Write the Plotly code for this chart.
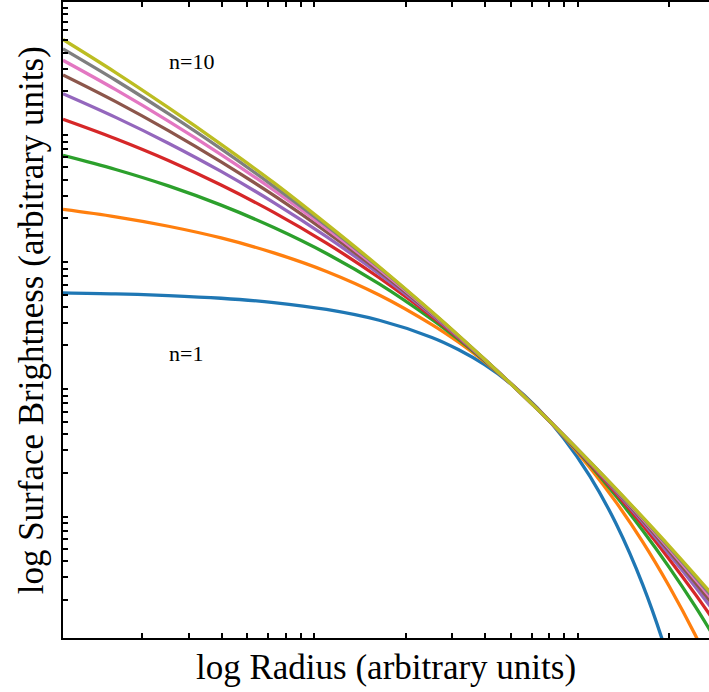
import plotly.graph_objects as go

# log10 of radius (arbitrary units) at the sampled points
log_radius = [0, 0.2, 0.4, 0.6, 0.8, 1.0, 1.2, 1.4, 1.5, 1.6, 1.7, 1.8, 1.9, 2.0, 2.1, 2.2, 2.3, 2.4, 2.5]

# log10 of surface brightness, one list per Sersic index
sb_n1 = [0.714, 0.706, 0.692, 0.671, 0.637, 0.583, 0.498, 0.363, 0.268, 0.149, -0.002, -0.191, -0.429, -0.729, -1.106, -1.581, -2.180, -2.933, -3.881]
sb_n2 = [1.369, 1.311, 1.237, 1.145, 1.028, 0.882, 0.697, 0.464, 0.327, 0.172, -0.002, -0.197, -0.415, -0.661, -0.936, -1.244, -1.591, -1.979, -2.415]
sb_n3 = [1.794, 1.683, 1.554, 1.403, 1.227, 1.023, 0.784, 0.505, 0.349, 0.180, -0.002, -0.199, -0.411, -0.640, -0.888, -1.155, -1.443, -1.754, -2.092]
sb_n4 = [2.078, 1.925, 1.754, 1.561, 1.346, 1.104, 0.832, 0.527, 0.361, 0.185, -0.002, -0.200, -0.409, -0.631, -0.865, -1.114, -1.378, -1.657, -1.953]
sb_n5 = [2.279, 2.093, 1.890, 1.668, 1.423, 1.155, 0.862, 0.540, 0.367, 0.187, -0.002, -0.200, -0.407, -0.624, -0.852, -1.090, -1.339, -1.599, -1.873]
sb_n6 = [2.427, 2.217, 1.989, 1.743, 1.479, 1.192, 0.884, 0.549, 0.373, 0.189, -0.002, -0.200, -0.406, -0.621, -0.844, -1.075, -1.316, -1.565, -1.824]
sb_n7 = [2.542, 2.311, 2.064, 1.801, 1.520, 1.219, 0.899, 0.556, 0.376, 0.190, -0.002, -0.201, -0.405, -0.619, -0.837, -1.063, -1.297, -1.539, -1.789]
sb_n8 = [2.632, 2.385, 2.122, 1.845, 1.551, 1.241, 0.912, 0.561, 0.379, 0.191, -0.002, -0.201, -0.406, -0.616, -0.833, -1.055, -1.285, -1.521, -1.765]
sb_n9 = [2.705, 2.445, 2.169, 1.881, 1.580, 1.256, 0.919, 0.565, 0.381, 0.192, -0.002, -0.201, -0.405, -0.615, -0.829, -1.050, -1.275, -1.507, -1.745]

series = [sb_n1, sb_n2, sb_n3, sb_n4, sb_n5, sb_n6, sb_n7, sb_n8, sb_n9]
series_names = ["n=1", "n=2", "n=3", "n=4", "n=5", "n=6", "n=7", "n=8", "n=9"]
colors = ["#1f77b4", "#ff7f0e", "#2ca02c", "#d62728", "#9467bd",
          "#8c564b", "#e377c2", "#7f7f7f", "#bcbd22"]

# minor tick positions (2..9 of each decade)
x_minor_ticks = [m * 10 ** k for k in range(0, 3) for m in range(2, 10)]
y_minor_ticks = [m * 10.0 ** k for k in range(-2, 3) for m in range(2, 10)]

radius = [10 ** v for v in log_radius]

fig = go.Figure()
for name, vals, col in zip(series_names, series, colors):
    fig.add_trace(go.Scatter(
        x=radius, y=[10 ** v for v in vals], mode="lines", name=name,
        line=dict(color=col, width=3.3, shape="spline", smoothing=1.0),
        showlegend=False,
    ))

FONT = "Liberation Serif, Times New Roman, serif"

fig.update_layout(
    width=709, height=692,
    margin=dict(l=63, r=0, t=2, b=54),
    paper_bgcolor="white", plot_bgcolor="white",
    font=dict(family=FONT, color="black"),
    xaxis=dict(
        type="log", range=[0, 2.4516],
        showgrid=False, zeroline=False,
        showline=True, linecolor="black", linewidth=2, mirror="ticks",
        tickmode="array", tickvals=x_minor_ticks,
        ticks="inside", ticklen=5, tickwidth=1.5, tickcolor="black",
        showticklabels=False,
    ),
    yaxis=dict(
        type="log", range=[-2, 3],
        showgrid=False, zeroline=False,
        showline=True, linecolor="black", linewidth=2, mirror=False,
        tickmode="array", tickvals=y_minor_ticks,
        ticks="inside", ticklen=5, tickwidth=1.5, tickcolor="black",
        showticklabels=False,
    ),
    annotations=[
        dict(text="log Radius (arbitrary units)", xref="paper", yref="paper",
             x=0.5, y=-0.0456, xanchor="center", yanchor="middle", showarrow=False,
             font=dict(family=FONT, size=35, color="black")),
        dict(text="log Surface Brightness (arbitrary units)", xref="paper", yref="paper",
             x=-0.049, y=0.5, xanchor="center", yanchor="middle", textangle=-90,
             showarrow=False, font=dict(family=FONT, size=35, color="black")),
        dict(text="n=10", x=0.396, y=2.535, xref="x", yref="y",
             xanchor="left", yanchor="middle", showarrow=False,
             font=dict(family=FONT, size=22, color="black")),
        dict(text="n=1", x=0.396, y=0.24, xref="x", yref="y",
             xanchor="left", yanchor="middle", showarrow=False,
             font=dict(family=FONT, size=22, color="black")),
    ],
)

fig.write_html("out.html")
